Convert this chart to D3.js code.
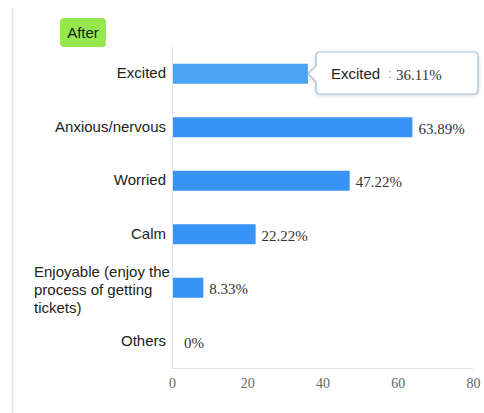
<!DOCTYPE html>
<html><head><meta charset="utf-8">
<script src="https://cdn.jsdelivr.net/npm/d3@7"></script>
<style>
html,body{margin:0;padding:0;background:#fff;}
svg{display:block;}
</style></head>
<body>
<svg id="chart" width="484" height="413"></svg>
<script>
const categories = ["Excited","Anxious/nervous","Worried","Calm","Enjoyable (enjoy the process of getting tickets)","Others"];
const categoryLines = [["Excited"],["Anxious/nervous"],["Worried"],["Calm"],["Enjoyable (enjoy the","process of getting","tickets)"],["Others"]];
const values = [36.11,63.89,47.22,22.22,8.33,0];
const valueLabels = ["36.11%","63.89%","47.22%","22.22%","8.33%","0%"];
const xTicks = [0,20,40,60,80];
const badgeText = "After";
const highlighted = 0;

const svg = d3.select("#chart");
const m = {left:172, right:473, top:47, bottom:368};

// outer left border
svg.append("line").attr("x1",12.5).attr("x2",12.5).attr("y1",8).attr("y2",413)
  .attr("stroke","#e3e3e3").attr("stroke-width",1.5);

const x = d3.scaleLinear().domain([0,80]).range([m.left,m.right]);
const y = d3.scaleBand().domain(categories).range([m.top,m.bottom]).paddingInner(0.626).paddingOuter(0.313);

// axes lines
svg.append("line").attr("x1",m.left+0.5).attr("x2",m.left+0.5).attr("y1",m.top).attr("y2",m.bottom)
  .attr("stroke","#dfe3e8");
svg.append("line").attr("x1",m.left).attr("x2",m.right).attr("y1",m.bottom+0.5).attr("y2",m.bottom+0.5)
  .attr("stroke","#dfe3e8");

// x tick labels via axis
const xAxis = d3.axisBottom(x).tickValues(xTicks).tickSize(0).tickPadding(0);
const gx = svg.append("g").attr("transform",`translate(0,${m.bottom+10})`).call(xAxis);
gx.select(".domain").remove();
gx.selectAll("text").attr("font-family","'Liberation Serif','Times New Roman',serif")
  .attr("font-size",14).attr("fill","#666").attr("dy","0.71em");

// bars
svg.append("g").selectAll("rect").data(values).join("rect")
  .attr("x",m.left+1)
  .attr("y",(d,i)=>y(categories[i]) + y.bandwidth()/2 - 10)
  .attr("width",d=>Math.max(0,x(d)-m.left-1))
  .attr("height",20)
  .attr("fill",(d,i)=> i===highlighted ? "#4aa3f4" : "#3794f6");

// value labels
svg.append("g").selectAll("text").data(values).join("text")
  .attr("x",d=>x(d) + (d===0 ? 12 : 6))
  .attr("y",(d,i)=>y(categories[i]) + y.bandwidth()/2 + 1)
  .attr("dy","0.35em")
  .attr("font-family","'Liberation Serif','Times New Roman',serif")
  .attr("font-size",15).attr("fill","#333")
  .text((d,i)=>i===highlighted ? "" : valueLabels[i]);

// category labels
categoryLines.forEach((lines,i)=>{
  const cy = y(categories[i]) + y.bandwidth()/2;
  if(lines.length===1){
    svg.append("text").attr("x",166).attr("y",cy-1).attr("dy","0.35em")
      .attr("text-anchor","end")
      .attr("font-family","'Liberation Sans',Arial,sans-serif").attr("font-size",15).attr("fill","#222")
      .text(lines[0]);
  } else {
    const lh = 18;
    lines.forEach((l,j)=>{
      svg.append("text").attr("x",34).attr("y",cy + 2 + (j-(lines.length-1)/2)*lh).attr("dy","0.35em")
        .attr("font-family","'Liberation Sans',Arial,sans-serif").attr("font-size",15).attr("fill","#222")
        .text(l);
    });
  }
});

// badge
svg.append("rect").attr("x",60).attr("y",18).attr("width",46).attr("height",29).attr("rx",4)
  .attr("fill","#95e84e");
svg.append("text").attr("x",83).attr("y",33).attr("dy","0.35em").attr("text-anchor","middle")
  .attr("font-family","'Liberation Sans',Arial,sans-serif").attr("font-size",15).attr("fill","#1a1a1a")
  .text(badgeText);

// tooltip
const ty = y(categories[highlighted]) + y.bandwidth()/2;
const tx0 = 316, tx1 = 478, tTop = 52, tBot = 94;
const path = `M${tx0+4},${tTop} L${tx1-4},${tTop} Q${tx1},${tTop} ${tx1},${tTop+4} L${tx1},${tBot-4} Q${tx1},${tBot} ${tx1-4},${tBot} L${tx0+4},${tBot} Q${tx0},${tBot} ${tx0},${tBot-4} L${tx0},${ty+8} L${tx0-8},${ty} L${tx0},${ty-8} L${tx0},${tTop+4} Q${tx0},${tTop} ${tx0+4},${tTop} Z`;
svg.append("path").attr("d",path).attr("fill","#fff").attr("stroke","#9dc0dd").attr("stroke-width",1.2)
  .style("filter","drop-shadow(0px 1px 2px rgba(0,0,0,0.15))");
svg.append("text").attr("x",331).attr("y",ty).attr("dy","0.35em")
  .attr("font-family","'Liberation Sans',Arial,sans-serif").attr("font-size",15).attr("fill","#222")
  .text(categories[highlighted]);
svg.append("text").attr("x",388).attr("y",ty).attr("dy","0.35em")
  .attr("font-family","'Liberation Sans',Arial,sans-serif").attr("font-size",13).attr("fill","#999")
  .text(":");
svg.append("text").attr("x",396).attr("y",ty+1).attr("dy","0.35em")
  .attr("font-family","'Liberation Serif','Times New Roman',serif").attr("font-size",15).attr("fill","#333")
  .text(valueLabels[highlighted]);
</script>
</body></html>
